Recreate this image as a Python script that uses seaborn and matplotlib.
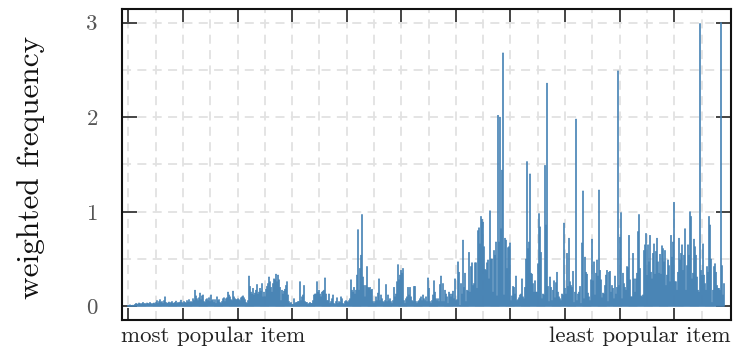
import numpy as np
import pandas as pd
import matplotlib
matplotlib.use("Agg")
import matplotlib.pyplot as plt
import seaborn as sns

# Weighted frequency of each item, items ordered from most to least popular.
freq_head = [
    0.01, 0.01, 0.015, 0.01, 0.01, 0.012, 0.01,
    0.02, 0.03, 0.025, 0.02, 0.035, 0.03, 0.02, 0.03, 0.04, 0.025,
    0.03, 0.02, 0.035, 0.03, 0.025, 0.04, 0.03, 0.02, 0.03, 0.035, 0.025,
    0.04, 0.06, 0.03, 0.05, 0.07, 0.04, 0.05, 0.03, 0.06, 0.10,
    0.04, 0.03, 0.035, 0.045, 0.03, 0.04, 0.05, 0.03, 0.035, 0.04,
    0.055, 0.03, 0.04, 0.035, 0.045, 0.065, 0.04, 0.03, 0.05, 0.04,
    0.035, 0.06, 0.045, 0.07, 0.04,
    0.05, 0.04, 0.08, 0.06, 0.17, 0.11, 0.08, 0.06, 0.09, 0.14,
    0.07, 0.11, 0.12, 0.05, 0.04, 0.07, 0.08, 0.06, 0.09, 0.05,
    0.12, 0.06, 0.07, 0.04, 0.07, 0.03, 0.10, 0.06, 0.07, 0.04,
    0.03, 0.05, 0.08, 0.09,
]
freq_upper_mid = [
    0.05, 0.08, 0.09, 0.15, 0.12, 0.10, 0.07, 0.06, 0.16, 0.10,
    0.08, 0.07, 0.07, 0.08, 0.07, 0.06, 0.09, 0.10, 0.11, 0.09,
    0.07, 0.04, 0.03, 0.06, 0.32, 0.21, 0.15, 0.13, 0.19, 0.12,
    0.14, 0.17, 0.23, 0.13, 0.15, 0.19, 0.16, 0.24, 0.10, 0.15,
    0.10, 0.18, 0.21, 0.24, 0.31, 0.26, 0.20, 0.15, 0.24, 0.29,
    0.28, 0.34, 0.26, 0.33, 0.28, 0.20, 0.06, 0.17, 0.13, 0.16,
    0.18, 0.22, 0.26, 0.12, 0.05, 0.03, 0.04, 0.02, 0.02, 0.08,
    0.03, 0.04, 0.04, 0.05, 0.05, 0.26, 0.06, 0.10, 0.12, 0.22,
    0.05, 0.04, 0.04, 0.02, 0.03, 0.04, 0.03, 0.03, 0.06, 0.12,
    0.13, 0.13, 0.26, 0.15, 0.17, 0.13, 0.10, 0.15, 0.16, 0.17,
    0.30, 0.13,
]
freq_mid = [
    0.06, 0.06, 0.13, 0.03, 0.05, 0.08, 0.12, 0.03, 0.02, 0.05,
    0.09, 0.03, 0.05, 0.04, 0.10, 0.08, 0.03, 0.02, 0.05, 0.06,
    0.05, 0.04, 0.06, 0.08, 0.28, 0.17, 0.15, 0.20, 0.13, 0.17,
    0.33, 0.81, 0.17, 0.40, 0.54, 0.97, 0.31, 0.22, 0.10, 0.22,
    0.42, 0.20, 0.19, 0.20, 0.17, 0.18, 0.05, 0.03, 0.05, 0.10,
    0.06, 0.14, 0.29, 0.06, 0.12, 0.08, 0.05, 0.04, 0.06, 0.23,
    0.05, 0.12, 0.06, 0.08, 0.05, 0.03, 0.06, 0.20, 0.10, 0.13,
    0.26, 0.44, 0.28, 0.33, 0.38, 0.35, 0.40, 0.06, 0.03, 0.08,
    0.10, 0.20, 0.12, 0.20, 0.10, 0.06, 0.05, 0.21, 0.21, 0.05,
    0.03, 0.05, 0.06, 0.08, 0.10, 0.06, 0.12, 0.08, 0.06, 0.10,
    0.05, 0.30,
]
freq_lower_mid = [
    0.19, 0.05, 0.03, 0.06, 0.12, 0.27, 0.15, 0.08, 0.06, 0.08,
    0.05, 0.23, 0.32, 0.05, 0.24, 0.05, 0.17, 0.13, 0.10, 0.03,
    0.15, 0.13, 0.10, 0.13, 0.16, 0.08, 0.29, 0.06, 0.07, 0.47,
    0.36, 0.01, 0.24, 0.13, 0.70, 0.20, 0.35, 0.05, 0.17, 0.16,
    0.57, 0.15, 0.42, 0.46, 0.22, 0.24, 0.46, 0.46, 0.19, 0.80,
    0.83, 0.66, 0.95, 0.92, 0.89, 0.63, 0.39, 0.38, 0.46, 0.49,
    0.29, 1.01, 0.50, 0.50, 0.15, 0.59, 0.54, 0.68, 0.11, 2.02,
    0.68, 2.00, 0.82, 1.44, 2.68, 0.12, 0.72, 0.70, 0.40, 0.62,
    0.63, 0.67, 0.06, 0.11, 0.21, 0.20, 0.13, 0.32, 0.06, 0.07,
    0.09, 0.12, 0.13, 0.29, 0.10, 0.08, 0.20, 0.50, 1.53, 0.61,
    0.68, 1.40,
]
freq_tail = [
    0.35, 0.34, 0.24, 0.15, 0.27, 0.15, 0.15, 0.45, 0.98, 0.84,
    0.57, 0.08, 0.13, 0.12, 1.49, 0.86, 2.36, 0.21, 0.05, 0.31,
    0.20, 0.06, 0.17, 0.27, 0.09, 0.25, 0.36, 0.15, 0.10, 0.08,
    0.06, 0.13, 0.12, 0.88, 0.19, 0.13, 0.56, 0.21, 0.72, 0.26,
    0.22, 0.20, 0.37, 0.04, 0.15, 1.98, 0.06, 0.13, 0.15, 0.21,
    0.03, 0.67, 1.22, 0.08, 0.52, 0.36, 0.34, 0.14, 0.10, 0.06,
    0.28, 0.71, 0.27, 0.47, 0.12, 0.35, 0.49, 0.32, 1.23, 0.38,
    0.28, 0.09, 0.14, 0.13, 0.22, 0.33, 0.38, 0.05, 0.36, 0.37,
    0.15, 0.22, 0.19, 0.08, 0.32, 0.13, 0.20, 2.49, 0.22, 0.73,
    0.99, 0.08, 0.35, 0.24, 0.20, 0.17, 0.42, 0.41, 0.75, 0.28,
    0.10, 0.10,
]
freq_long_tail = [
    0.56, 0.29, 0.15, 0.29, 0.35, 0.79, 0.97, 0.40, 0.11, 0.10,
    0.12, 0.59, 0.65, 0.77, 0.33, 0.65, 0.47, 0.75, 0.36, 0.29,
    0.56, 0.66, 0.34, 0.58, 0.72, 0.47, 0.35, 0.55, 0.34, 0.64,
    0.61, 0.47, 0.59, 0.22, 0.33, 0.49, 0.43, 0.26, 0.75, 0.52,
    0.68, 1.10, 0.26, 0.26, 0.17, 0.36, 0.72, 0.49, 0.56, 0.65,
    0.38, 0.54, 0.82, 0.17, 0.43, 0.65, 0.54, 1.00, 0.95, 0.29,
    0.35, 0.71, 0.63, 0.54, 0.31, 0.17, 0.15, 2.99, 0.38, 0.33,
    0.66, 0.33, 0.24, 0.17, 0.42, 0.36, 0.95, 0.86, 0.50, 0.04,
    0.17, 0.42, 0.45, 0.36, 0.22, 0.19, 0.19, 0.17, 3.00, 0.43,
    0.12, 0.24,
]

y_ticks = [0, 1, 2, 3]
y_tick_labels = ["0", "1", "2", "3"]
end_labels = ["most popular item", "least popular item"]
y_label = "weighted frequency"

weights = np.concatenate([freq_head, freq_upper_mid, freq_mid,
                          freq_lower_mid, freq_tail, freq_long_tail])
df = pd.DataFrame({"item": np.arange(len(weights)), "weight": weights})

sns.set_theme(style="white")
plt.rcParams["font.family"] = ["cmr10", "DejaVu Serif"]
plt.rcParams["mathtext.fontset"] = "cm"
plt.rcParams["axes.formatter.use_mathtext"] = True

W, H = 746, 352
fig = plt.figure(figsize=(W / 100, H / 100), dpi=100)
ax = fig.add_axes([122.3 / W, 1 - 320 / H, (730.7 - 122.3) / W, (320 - 9) / H])

# one bar per item, placed at its rank along the categorical axis
bar_color = "#4682b4"
sns.barplot(data=df, x="item", y="weight", order=list(df["item"]),
            color=bar_color, saturation=1, width=0.95,
            linewidth=0.5, edgecolor=bar_color,
            errorbar=None, ax=ax)
for bar in ax.patches:
    bar.set_snap(False)

# rank ticks every 54.6 items, dashed grid also at the half steps
step = 54.6
major_x = [0.3 + step * k for k in range(11)]
minor_x = [0.3 + step * (k + 0.5) for k in range(11)]
ax.set_xticks(major_x)
ax.set_xticks(minor_x, minor=True)
ax.set_xticklabels([])
ax.set_yticks(y_ticks)
ax.set_yticklabels(y_tick_labels)
ax.set_yticks([0.5, 1.5, 2.5], minor=True)

ax.set_xlim(-5.7, 602.7)
ax.set_ylim(-0.145, 3.145)

ax.set_axisbelow(True)
ax.grid(which="both", color="#e2e2e2", linestyle=(0, (5, 3.5)),
        linewidth=1.3)

ax.tick_params(axis="both", which="major", direction="in", width=1.4,
               color="#444444", top=True, right=True, bottom=True, left=True,
               labelsize=16.5, labelcolor="#555555")
ax.tick_params(axis="x", which="major", length=9)
ax.tick_params(axis="y", which="major", length=11, pad=17.5)
ax.tick_params(which="minor", length=0)

for side in ["left", "right", "top", "bottom"]:
    ax.spines[side].set_visible(True)
    ax.spines[side].set_color("#111111")
    ax.spines[side].set_linewidth(1.5)

ax.set_xlabel("")
ax.set_ylabel(y_label, fontsize=22.5, color="#111111")
ax.yaxis.set_label_coords(-0.127, 0.49)

ax.annotate(end_labels[0], xy=(0, 0), xycoords="axes fraction",
            xytext=(-1, -5), textcoords="offset points",
            ha="left", va="top", fontsize=16.5, color="#222222")
ax.annotate(end_labels[1], xy=(1, 0), xycoords="axes fraction",
            xytext=(0, -5), textcoords="offset points",
            ha="right", va="top", fontsize=16.5, color="#222222")

fig.savefig("out.png", dpi=100)
